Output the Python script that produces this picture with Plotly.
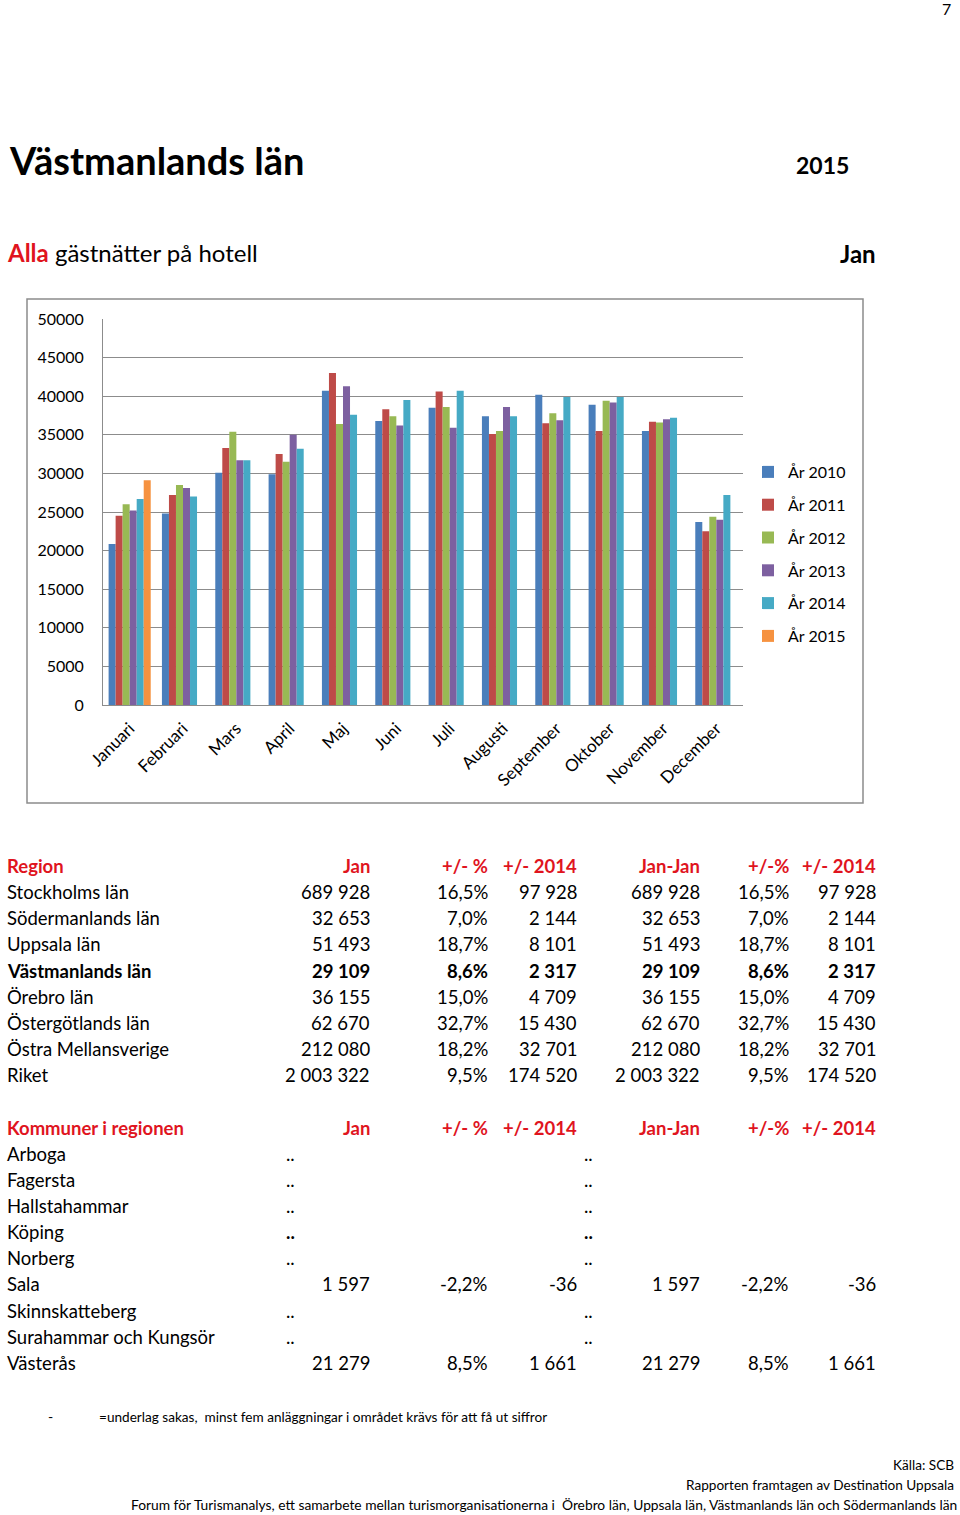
import plotly.graph_objects as go

W, H = 960, 1515
FONT = "Lato"
RED = "#E0141E"

# ---------------- data ----------------
months = ["Januari", "Februari", "Mars", "April", "Maj", "Juni", "Juli",
          "Augusti", "September", "Oktober", "November", "December"]
years = ["År 2010", "År 2011", "År 2012", "År 2013", "År 2014", "År 2015"]
v2010 = [20850, 24800, 30100, 29900, 40700, 36800, 38500, 37400, 40200, 38900, 35500, 23700]
v2011 = [24500, 27200, 33300, 32500, 43000, 38300, 40600, 35100, 36500, 35500, 36700, 22500]
v2012 = [26000, 28500, 35400, 31500, 36400, 37400, 38600, 35500, 37800, 39400, 36600, 24400]
v2013 = [25200, 28100, 31700, 35000, 41300, 36200, 35900, 38600, 36900, 39200, 37000, 24000]
v2014 = [26700, 27000, 31700, 33200, 37600, 39500, 40700, 37400, 39900, 39900, 37200, 27200]
v2015 = [29109]
series = [v2010, v2011, v2012, v2013, v2014, v2015]
colors = ["#4A7EBB", "#BE4B48", "#98B954", "#7D60A0", "#46AAC5", "#F69240"]
y_ticks = [0, 5000, 10000, 15000, 20000, 25000, 30000, 35000, 40000, 45000, 50000]

reg_header = ["Region", "Jan", "+/- %", "+/- 2014", "Jan-Jan", "+/-%", "+/- 2014"]
regions = ["Stockholms län", "Södermanlands län", "Uppsala län", "Västmanlands län",
           "Örebro län", "Östergötlands län", "Östra Mellansverige", "Riket"]
reg_jan = ["689 928", "32 653", "51 493", "29 109", "36 155", "62 670", "212 080", "2 003 322"]
reg_pct = ["16,5%", "7,0%", "18,7%", "8,6%", "15,0%", "32,7%", "18,2%", "9,5%"]
reg_diff = ["97 928", "2 144", "8 101", "2 317", "4 709", "15 430", "32 701", "174 520"]
reg_janjan = ["689 928", "32 653", "51 493", "29 109", "36 155", "62 670", "212 080", "2 003 322"]
reg_pct2 = ["16,5%", "7,0%", "18,7%", "8,6%", "15,0%", "32,7%", "18,2%", "9,5%"]
reg_diff2 = ["97 928", "2 144", "8 101", "2 317", "4 709", "15 430", "32 701", "174 520"]

kom_header = ["Kommuner i regionen", "Jan", "+/- %", "+/- 2014", "Jan-Jan", "+/-%", "+/- 2014"]
kommuner = ["Arboga", "Fagersta", "Hallstahammar", "Köping", "Norberg", "Sala",
            "Skinnskatteberg", "Surahammar och Kungsör", "Västerås"]
kom_jan = ["..", "..", "..", "..", "..", "1 597", "..", "..", "21 279"]
kom_pct = ["", "", "", "", "", "-2,2%", "", "", "8,5%"]
kom_diff = ["", "", "", "", "", "-36", "", "", "1 661"]
kom_janjan = ["..", "..", "..", "..", "..", "1 597", "..", "..", "21 279"]
kom_pct2 = ["", "", "", "", "", "-2,2%", "", "", "8,5%"]
kom_diff2 = ["", "", "", "", "", "-36", "", "", "1 661"]


def X(px):
    return px / W


def Y(py):
    return 1 - py / H


fig = go.Figure()
for name, vals, c in zip(years, series, colors):
    fig.add_trace(go.Bar(x=months[:len(vals)], y=vals, name=name, marker_color=c,
                         marker_line_width=0, legendgroup=name))

fig.update_layout(
    width=W, height=H, margin=dict(l=0, r=0, t=0, b=0, autoexpand=False),
    paper_bgcolor="white", plot_bgcolor="white",
    font=dict(family=FONT, color="black"),
    barmode="group", bargap=0.21, bargroupgap=0,
    xaxis=dict(domain=[X(103), X(743)], categoryorder="array", categoryarray=months,
               range=[-0.5, 11.5], tickangle=-45, tickfont=dict(size=17, family=FONT),
               showline=True, linecolor="#8C8C8C", linewidth=1, ticks="", anchor="y",
               automargin=False, ticklabelstandoff=6),
    yaxis=dict(domain=[Y(705), Y(319)], range=[0, 50000], tickvals=y_ticks,
               tickformat="d", tickfont=dict(size=16, family=FONT),
               showgrid=True, gridcolor="#8C8C8C", gridwidth=1,
               showline=True, linecolor="#8C8C8C", linewidth=1,
               zeroline=False, ticks="", ticklabelstandoff=15, automargin=False),
    legend=dict(x=X(748), y=Y(455), xanchor="left", yanchor="top",
                font=dict(size=16, family=FONT), tracegroupgap=9,
                bgcolor="rgba(0,0,0,0)", itemwidth=30),
    showlegend=True,
)

# chart frame
fig.add_shape(type="rect", xref="paper", yref="paper", x0=X(27), x1=X(863),
              y0=Y(803), y1=Y(299), line=dict(color="#8C8C8C", width=1.5), layer="below")

ann = []


def txt(s, x, y, size, anchor="left", bold=False, color="black"):
    if bold:
        s = "<b>" + s + "</b>"
    ann.append(dict(text=s, x=X(x), y=Y(y), xref="paper", yref="paper",
                    xanchor=anchor, yanchor="middle", showarrow=False,
                    font=dict(size=size, color=color, family=FONT)))


txt("7", 953, 8, 16, "right")
txt("Västmanlands län", 7, 160, 38, bold=True)
txt("2015", 851, 165, 23, "right", bold=True)
txt("<b><span style='color:%s'>Alla</span></b> gästnätter på hotell" % RED, 5, 252, 24)
txt("Jan", 878, 254, 24, "right", bold=True)

col_r = [372, 490, 579, 702, 791, 878]
TS = 18.5
# region table
y0, dy = 866, 26.15
txt(reg_header[0], 5, y0, TS, bold=True, color=RED)
for j, h in enumerate(reg_header[1:]):
    txt(h, col_r[j], y0, TS, "right", bold=True, color=RED)
cols = [reg_jan, reg_pct, reg_diff, reg_janjan, reg_pct2, reg_diff2]
for i, r in enumerate(regions):
    y = y0 + dy * (i + 1)
    b = (r == "Västmanlands län")
    txt(r, 5, y, TS, bold=b)
    for j, col in enumerate(cols):
        txt(col[i], col_r[j], y, TS, "right", bold=b)

# kommun table
y1 = 1127.5
txt(kom_header[0], 5, y1, TS, bold=True, color=RED)
for j, h in enumerate(kom_header[1:]):
    txt(h, col_r[j], y1, TS, "right", bold=True, color=RED)
kcols = [kom_jan, kom_pct, kom_diff, kom_janjan, kom_pct2, kom_diff2]
for i, k in enumerate(kommuner):
    y = y1 + dy * (i + 1)
    txt(k, 5, y, TS)
    for j, col in enumerate(kcols):
        v = col[i]
        if v == "..":
            xl = 284 if j == 0 else 582
            txt(v, xl, y, TS, "left", bold=(k == "Köping"))
        elif v:
            txt(v, col_r[j], y, TS, "right")

txt("-", 46, 1416, 14)
txt("=underlag sakas,  minst fem anläggningar i området krävs för att få ut siffror", 97, 1417, 13.6)
txt("Källa: SCB", 956, 1465, 13.6, "right")
txt("Rapporten framtagen av Destination Uppsala", 956, 1485, 13.6, "right")
txt("Forum för Turismanalys, ett samarbete mellan turismorganisationerna i  Örebro län, "
    "Uppsala län, Västmanlands län och Södermanlands län", 959, 1504, 13.8, "right")

fig.update_layout(annotations=ann)
fig.write_html("out.html", config={"displayModeBar": False},
               post_script="document.body.style.margin='0';")
